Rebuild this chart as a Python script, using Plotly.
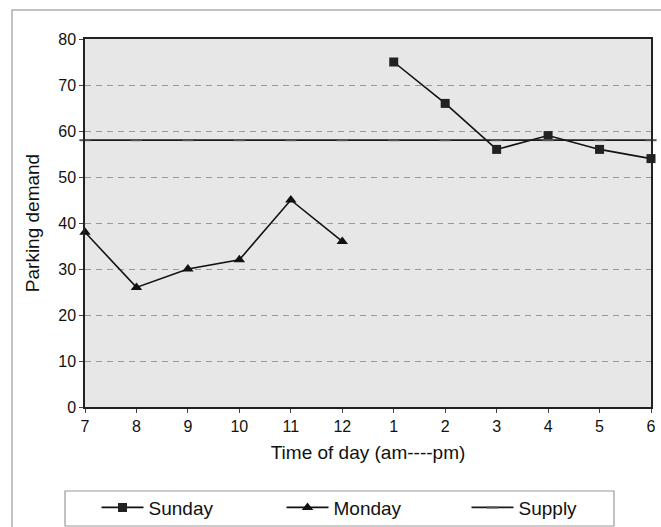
import plotly.graph_objects as go

hours = ["7", "8", "9", "10", "11", "12", "1", "2", "3", "4", "5", "6"]
monday_hours = ["7", "8", "9", "10", "11", "12"]
monday_values = [38, 26, 30, 32, 45, 36]
sunday_hours = ["1", "2", "3", "4", "5", "6"]
sunday_values = [75, 66, 56, 59, 56, 54]
supply_value = 58
supply_values = [supply_value] * len(hours)

FONT = "Liberation Sans, Arial, sans-serif"

fig = go.Figure()
fig.add_trace(go.Scatter(
    x=sunday_hours, y=sunday_values, name="Sunday", mode="lines+markers",
    line=dict(color="#111111", width=1.6), cliponaxis=False,
    marker=dict(symbol="square", size=9, color="#222222"),
))
fig.add_trace(go.Scatter(
    x=monday_hours, y=monday_values, name="Monday", mode="lines+markers",
    line=dict(color="#111111", width=1.6), cliponaxis=False,
    marker=dict(symbol="triangle-up", size=10, color="#111111"),
))
fig.add_trace(go.Scatter(
    x=hours, y=supply_values, name="Supply", mode="lines+markers",
    line=dict(color="#1a1a1a", width=1.8), cliponaxis=False,
    marker=dict(symbol="line-ew", size=8, line=dict(color="#555555", width=2)),
))

fig.update_layout(
    width=661, height=527,
    margin=dict(l=85, r=10, t=39, b=120, autoexpand=False),
    paper_bgcolor="white",
    plot_bgcolor="#e7e7e7",
    font=dict(family=FONT, color="#111111", size=16),
    showlegend=True,
    legend=dict(
        orientation="h", xref="container", yref="container",
        x=0.146, y=0.073, xanchor="left", yanchor="top",
        borderwidth=0, bgcolor="rgba(0,0,0,0)", itemwidth=42,
        font=dict(size=19, family=FONT), entrywidth=128, entrywidthmode="pixels",
        traceorder="normal",
    ),
    shapes=[
        # outer chart-area frame (top and left edges visible)
        dict(type="rect", xref="paper", yref="paper", x0=-0.129, x1=1.05,
             y0=-0.5, y1=1.079, line=dict(color="#b0b0b0", width=1.5), layer="below"),
        # legend box
        dict(type="rect", xref="paper", yref="paper", x0=-0.0353, x1=0.9346,
             y0=-0.3234, y1=-0.2283, line=dict(color="#999999", width=1.2),
             fillcolor="white", layer="below"),
    ],
)

fig.update_xaxes(
    type="category", categoryorder="array", categoryarray=hours,
    range=[0, 11], showgrid=False, zeroline=False,
    showline=True, linecolor="#222222", linewidth=1.5, mirror=True,
    ticks="outside", ticklen=4, tickcolor="#444444",
    tickfont=dict(size=16),
    title=dict(text="Time of day (am----pm)", font=dict(size=19), standoff=12),
)
fig.update_yaxes(
    range=[0, 80], dtick=10, showgrid=True, gridcolor="#999999", griddash="6px,5px",
    gridwidth=1, zeroline=False,
    showline=True, linecolor="#222222", linewidth=1.5, mirror=True,
    ticks="outside", ticklen=4, tickcolor="#444444",
    tickfont=dict(size=16),
    title=dict(text="Parking demand", font=dict(size=19), standoff=14),
)

fig.write_html("out.html")
